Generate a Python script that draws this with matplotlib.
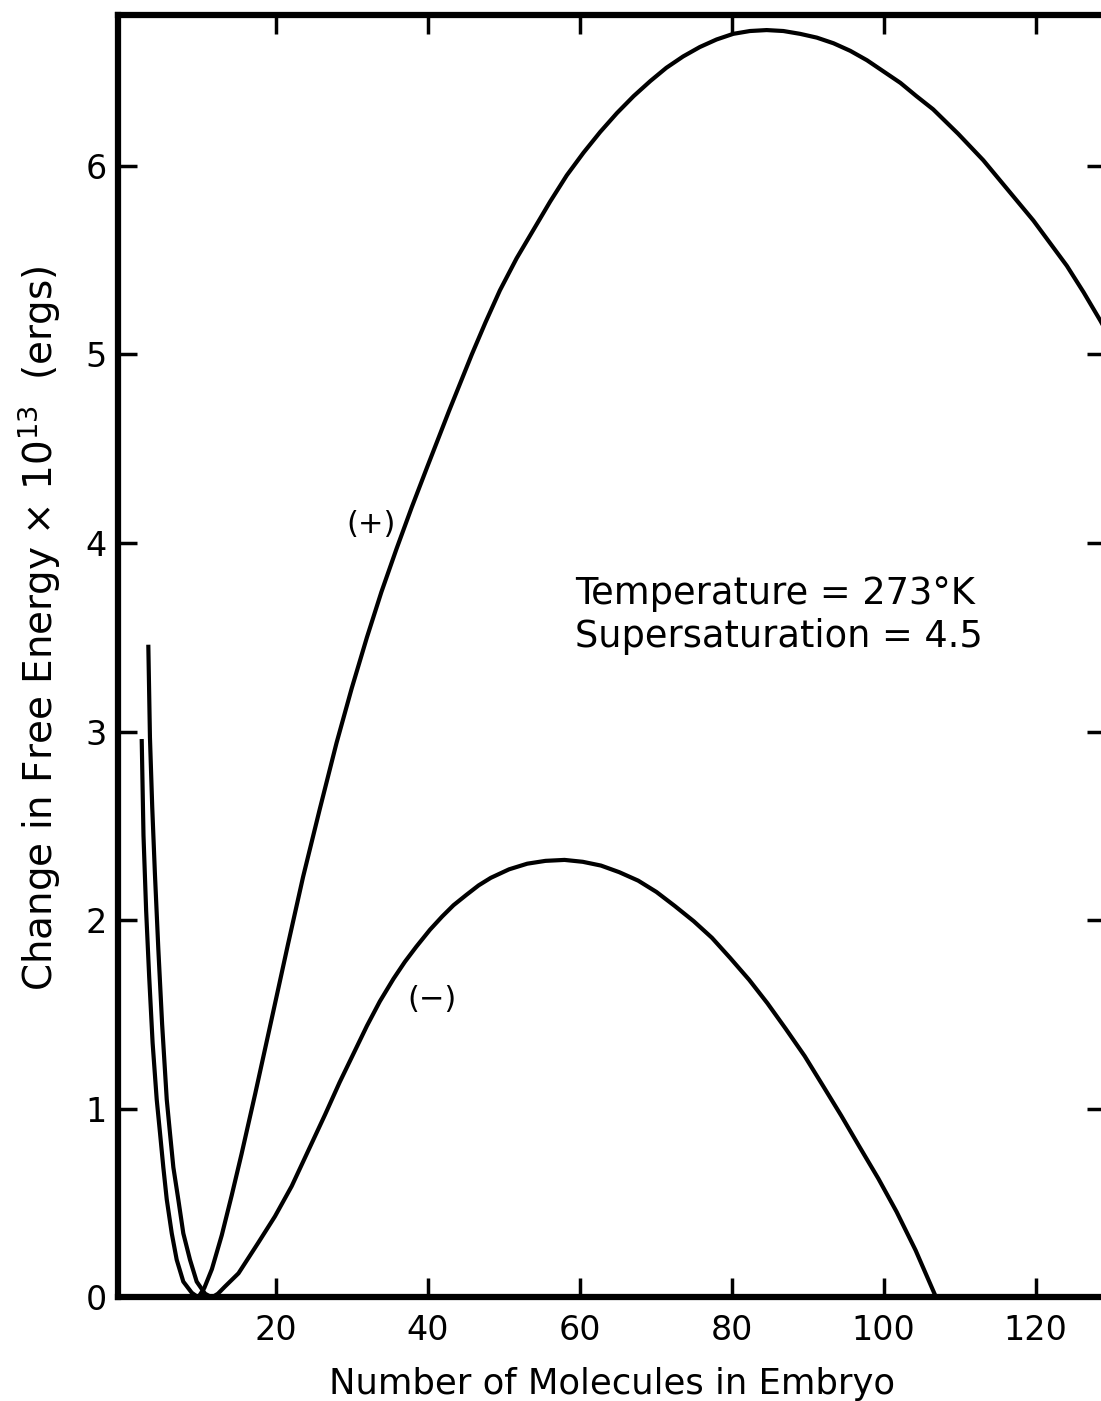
import numpy as np
import matplotlib.pyplot as plt

# values (x = molecules, y = free energy x 1e13 ergs)
plus_x = [2.37, 2.6, 2.95, 3.35, 3.8, 4.34, 4.78, 5.21, 5.66, 6.32, 6.97,
          7.84, 8.95, 9.8, 10.6, 11.6, 12.9, 14.2, 15.5, 17.3, 19.7, 21.6,
          23.6, 25.8, 28.0, 30.0, 32.0, 33.9, 35.9, 37.9, 39.9, 42.8, 45.8,
          47.6, 49.5, 51.7, 53.9, 56.1, 58.3, 60.5, 62.7, 64.9, 67.1, 69.3,
          71.4, 73.6, 75.8, 78.0, 80.2, 82.4, 84.6, 86.8, 89.0, 91.2, 93.4,
          95.6, 97.8, 100.0, 102.2, 104.3, 106.5, 109.8, 113.1, 116.4, 119.7,
          121.9, 124.1, 126.3, 128.5, 131.0]
plus_y = [2.95, 2.45, 2.05, 1.7, 1.35, 1.05, 0.87, 0.69, 0.52, 0.34, 0.20,
          0.084, 0.025, 0.0, 0.05, 0.15, 0.33, 0.54, 0.76, 1.08, 1.52, 1.87,
          2.23, 2.59, 2.94, 3.23, 3.50, 3.74, 3.97, 4.19, 4.40, 4.70, 5.00,
          5.17, 5.34, 5.51, 5.66, 5.81, 5.95, 6.07, 6.18, 6.28, 6.37, 6.45,
          6.52, 6.58, 6.63, 6.67, 6.70, 6.715, 6.72, 6.715, 6.70, 6.68, 6.65,
          6.61, 6.56, 6.50, 6.44, 6.37, 6.30, 6.17, 6.03, 5.87, 5.71,
          5.59, 5.47, 5.33, 5.18, 5.00]

minus_x = [3.24, 3.45, 3.75, 4.1, 4.55, 5.05, 5.66, 6.09, 6.53, 7.18, 7.84,
           8.72, 9.6, 10.7, 11.6, 12.4, 13.3, 15.1, 17.7, 19.9, 22.1, 24.3,
           26.5, 28.4, 30.2, 32.0, 33.7, 35.5, 37.0, 38.5, 40.3, 41.9, 43.4,
           45.1, 46.7, 48.3, 50.7, 53.1, 55.5, 58.0, 60.4, 62.8, 65.2, 67.7,
           70.1, 72.5, 75.0, 77.4, 79.8, 82.3, 84.7, 87.1, 89.6, 92.0, 94.4,
           96.8, 99.3, 101.7, 104.2, 106.9]
minus_y = [3.45, 2.97, 2.6, 2.25, 1.85, 1.45, 1.05, 0.87, 0.69, 0.52, 0.34,
           0.20, 0.084, 0.02, 0.0, 0.02, 0.057, 0.128, 0.29, 0.43, 0.59, 0.78,
           0.97, 1.14, 1.29, 1.44, 1.57, 1.69, 1.78, 1.86, 1.95, 2.02, 2.08,
           2.135, 2.185, 2.225, 2.27, 2.30, 2.315, 2.32, 2.31, 2.29, 2.255, 2.21,
           2.15, 2.076, 1.995, 1.907, 1.80, 1.684, 1.56, 1.425, 1.28, 1.123,
           0.965, 0.80, 0.63, 0.454, 0.25, 0.0]

xticks = [20, 40, 60, 80, 100, 120]
yticks = [0, 1, 2, 3, 4, 5, 6]

fig = plt.figure(figsize=(11.01, 14.01), dpi=100)
ax = fig.add_axes([0.1072, 0.0739, 0.8974, 0.9154])

ax.plot(plus_x, plus_y, color='black', lw=3.0, solid_joinstyle='round')
ax.plot(minus_x, minus_y, color='black', lw=3.0, solid_joinstyle='round')

ax.set_xlim(-0.75, 129.26)
ax.set_ylim(0, 6.80)

ax.set_xticks(xticks)
ax.set_yticks(yticks)
ax.set_xticklabels([str(v) for v in xticks])
ax.set_yticklabels([str(v) for v in yticks])
ax.tick_params(direction='in', length=14, width=2.5, top=True, right=True,
               labelsize=24, color='black')
ax.tick_params(axis='x', pad=12)
ax.tick_params(axis='y', pad=8)

for s in ax.spines.values():
    s.set_linewidth(4.5)

ax.set_xlabel('Number of Molecules in Embryo', fontsize=25.5, labelpad=14)
fig.text(0.036, 1 - 628 / 1401,
         r'Change in Free Energy $\times$ 10$^{13}$  (ergs)',
         rotation=90, fontsize=28, ha='center', va='center')

ax.text(32.5, 4.1, '(+)', fontsize=22, ha='center', va='center')
ax.text(40.5, 1.58, '(\u2212)', fontsize=22, ha='center', va='center')
ax.text(59.4, 3.62, 'Temperature = 273\u00b0K\nSupersaturation = 4.5',
        fontsize=26.5, ha='left', va='center', linespacing=1.2)

fig.savefig('out.png', dpi=100)
